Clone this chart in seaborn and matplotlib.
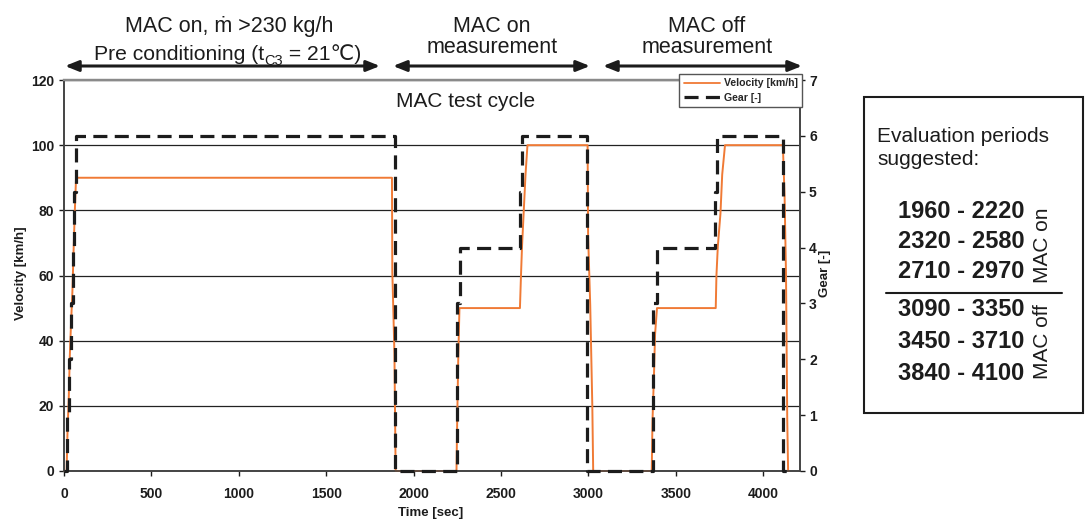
import matplotlib
matplotlib.use("Agg")
import matplotlib.pyplot as plt
import seaborn as sns
import pandas as pd
from matplotlib.patches import Rectangle, FancyArrowPatch
from matplotlib.lines import Line2D

# ---------------- data ----------------
vel_time = [0, 15, 20, 27, 33, 40, 48, 55, 62, 69,
            1876, 1878, 1884, 1890, 1897,
            2245, 2249, 2255, 2262,
            2608, 2614, 2620, 2630, 2640, 2651,
            2995, 2998, 3010, 3022, 3027,
            3362, 3366, 3375, 3381, 3392,
            3728, 3732, 3740, 3755, 3765, 3781,
            4112, 4122, 4130, 4137, 4142, 4148]
vel_kmh = [0, 0, 12, 22, 35, 45, 55, 68, 80, 90,
           90, 61, 49, 36, 0,
           0, 15, 34, 50,
           50, 60, 69, 80, 91, 100,
           100, 72, 51, 20, 0,
           0, 15, 30, 42, 50,
           50, 60, 69, 79, 91, 100,
           100, 84, 60, 16, 0, 0]

gear_time = [0, 17, 28, 40, 50, 58, 68, 1893, 2248, 2264, 2607, 2618,
             2991, 3368, 3391, 3724, 3736, 4113, 4165]
gear_val = [0, 1, 2, 3, 4, 5, 6, 0, 3, 4, 5, 6, 0, 3, 4, 5, 6, 0, 0]

x_ticks = [0, 500, 1000, 1500, 2000, 2500, 3000, 3500, 4000]
v_ticks = [0, 20, 40, 60, 80, 100, 120]
g_ticks = [0, 1, 2, 3, 4, 5, 6, 7]

periods_on = ["1960 - 2220", "2320 - 2580", "2710 - 2970"]
periods_off = ["3090 - 3350", "3450 - 3710", "3840 - 4100"]

vel_df = pd.DataFrame({"t": vel_time, "v": vel_kmh})
gear_df = pd.DataFrame({"t": gear_time, "g": gear_val})

# ---------------- style ----------------
sns.set_theme(style="white")
plt.rcParams['font.family'] = ['Liberation Sans', 'DejaVu Sans']

W, H = 1088, 522
fig = plt.figure(figsize=(W / 100, H / 100), dpi=100)

def fx(px):
    return px / W

def fy(py):
    return 1 - py / H

ax = fig.add_axes([fx(64), fy(471), fx(800) - fx(64), fy(80) - fy(471)])
ax2 = ax.twinx()

orange = "#F07A35"
dark = "#1c1c1c"
dash = (0, (4.4, 2.3))

sns.lineplot(data=vel_df, x="t", y="v", ax=ax, color=orange, lw=1.4,
             estimator=None, sort=False, legend=False, clip_on=False, zorder=3)
sns.lineplot(data=gear_df, x="t", y="g", ax=ax2, color=dark, lw=2.3,
             estimator=None, sort=False, drawstyle="steps-post",
             linestyle=dash, legend=False, clip_on=False, zorder=4)

ax.set_xlim(0, 4210)
ax.set_ylim(0, 120)
ax2.set_ylim(0, 7)
ax.set_xticks(x_ticks)
ax.set_yticks(v_ticks)
ax2.set_yticks(g_ticks)
ax.set_xticklabels([str(t) for t in x_ticks])
ax.set_yticklabels([str(t) for t in v_ticks])
ax2.set_yticklabels([str(t) for t in g_ticks])

for a in (ax, ax2):
    a.tick_params(axis='both', which='major', labelsize=10, colors=dark,
                  direction='out', length=3.5, width=1)
    for lab in a.get_xticklabels() + a.get_yticklabels():
        lab.set_fontweight('bold')
ax.tick_params(axis='x', pad=8, bottom=True)
ax.tick_params(axis='y', pad=3.5, left=True)
ax2.tick_params(axis='y', pad=3, right=True)

ax.yaxis.grid(True, color="#222222", lw=0.9)
ax.xaxis.grid(False)
ax2.grid(False)
ax.set_axisbelow(True)

for a in (ax, ax2):
    for s in ('left', 'bottom', 'right'):
        a.spines[s].set_color("#444444")
        a.spines[s].set_linewidth(1.2)
    a.spines['top'].set_color("#8a8a8a")
    a.spines['top'].set_linewidth(1.6)

ax.set_xlabel("Time [sec]", fontsize=9.5, fontweight='bold', color=dark)
ax.set_ylabel("Velocity [km/h]", fontsize=9.5, fontweight='bold', color=dark)
ax2.set_ylabel("Gear [-]", fontsize=9.5, fontweight='bold', color=dark)
ax.xaxis.set_label_coords(0.4986, (471 - 507) / 391)
ax.yaxis.set_label_coords((27 - 64) / 736, 0.506)
ax2.yaxis.set_label_coords((819 - 64) / 736, 0.506)

ax.text(0.545, 0.945, "MAC test cycle", transform=ax.transAxes,
        ha='center', va='center', fontsize=15, color=dark)

# legend
handles = [Line2D([], [], color=orange, lw=1.3),
           Line2D([], [], color=dark, lw=2.3, linestyle=dash)]
leg = fig.legend(handles, ["Velocity [km/h]", "Gear [-]"],
                 loc='upper right', bbox_to_anchor=(fx(802), fy(74)),
                 bbox_transform=fig.transFigure,
                 prop={'weight': 'bold', 'size': 7.6},
                 frameon=True, fancybox=False, framealpha=1,
                 edgecolor="#555555", handlelength=3.4, handletextpad=0.4,
                 borderpad=0.4, labelspacing=0.45, borderaxespad=0)
leg.get_frame().set_linewidth(1.0)

# top annotations
tkw = dict(ha='center', va='baseline', fontsize=15.5, color=dark)
fig.text(fx(229), fy(32), "MAC on, ṁ >230 kg/h", **tkw)
fig.text(fx(492), fy(32), "MAC on", **tkw)
fig.text(fx(492), fy(53), "measurement", **tkw)
fig.text(fx(707), fy(32), "MAC off", **tkw)
fig.text(fx(707), fy(53), "measurement", **tkw)

# "Pre conditioning (t_C3 = 21℃)" built from pieces
fig.canvas.draw()
renderer = fig.canvas.get_renderer()
pieces = [("Pre conditioning (t", 15.2, 0), ("C3", 10.5, -5), (" = 21℃)", 15.2, 0)]
arts = []
widths = []
for s, fs, dy in pieces:
    t = fig.text(0, fy(60 - dy), s, ha='left', va='baseline', fontsize=fs, color=dark)
    bb = t.get_window_extent(renderer=renderer)
    arts.append(t)
    widths.append(bb.width)
total = sum(widths)
xcur = 228 - total / 2
for t, w in zip(arts, widths):
    t.set_x(fx(xcur))
    xcur += w

for x0, x1 in [(65, 380), (393, 590), (603, 802)]:
    fig.add_artist(FancyArrowPatch(
        (fx(x0), fy(66)), (fx(x1), fy(66)), transform=fig.transFigure,
        arrowstyle='<|-|>,head_length=8,head_width=3.2', color=dark,
        lw=2.2, shrinkA=0, shrinkB=0, mutation_scale=1))

# evaluation box
fig.add_artist(Rectangle((fx(864), fy(413)), fx(1083) - fx(864), fy(97) - fy(413),
                         transform=fig.transFigure, fill=False,
                         edgecolor=dark, lw=1.5))
fig.text(fx(877), fy(142), "Evaluation periods", ha='left', va='baseline',
         fontsize=15, color=dark)
fig.text(fx(877), fy(165), "suggested:", ha='left', va='baseline',
         fontsize=15, color=dark)
for txt, yy in zip(periods_on + periods_off, [211, 241, 272, 309, 341, 374]):
    fig.text(fx(898), fy(yy), txt, ha='left', va='center', fontsize=17,
             fontweight='bold', color=dark)
fig.add_artist(Line2D([fx(886), fx(1062)], [fy(293), fy(293)],
                      transform=fig.transFigure, color=dark, lw=1.5))
fig.text(fx(1043), fy(245), "MAC on", rotation=90, ha='center', va='center',
         fontsize=15, color=dark)
fig.text(fx(1043), fy(342), "MAC off", rotation=90, ha='center', va='center',
         fontsize=15, color=dark)

fig.savefig("out.png", dpi=100)
